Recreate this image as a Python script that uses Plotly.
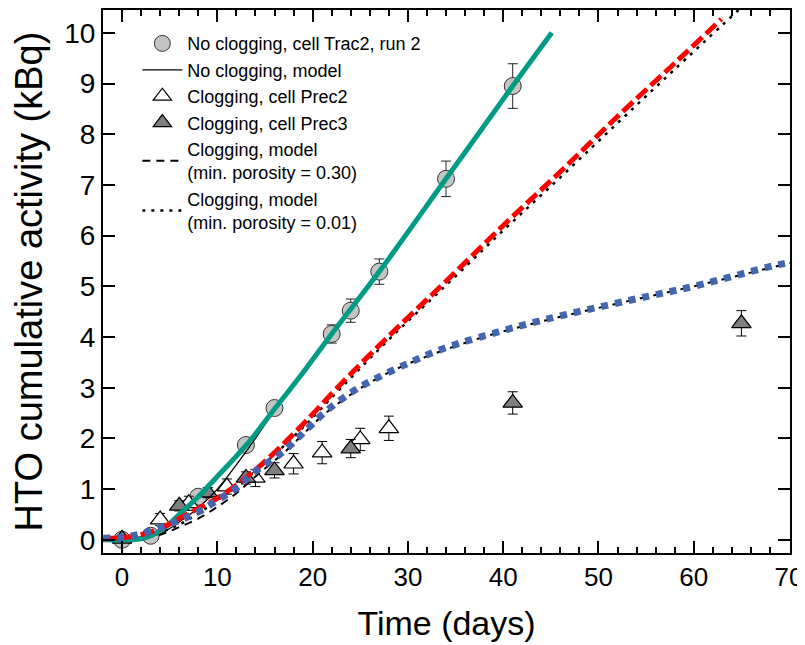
import plotly.graph_objects as go

# ---------------- data ----------------
# measured points
circ_x = [0, 3, 8, 13, 16, 22, 24, 27, 34, 41]
circ_y = [0.0, 0.08, 0.85, 1.87, 2.6, 4.06, 4.52, 5.29, 7.12, 8.95]
circ_err = [0.05, 0.05, 0.08, 0.1, 0.12, 0.18, 0.23, 0.25, 0.35, 0.44]

open_x = [4, 7, 11, 14, 18, 21, 25, 28]
open_y = [0.4, 0.72, 1.05, 1.22, 1.5, 1.72, 1.98, 2.2]
open_err = [0.12, 0.14, 0.15, 0.17, 0.2, 0.22, 0.22, 0.24]

fill_x = [0, 6, 9, 13, 16, 24, 41, 65]
fill_y = [0.02, 0.67, 0.93, 1.22, 1.37, 1.8, 2.7, 4.27]
fill_err = [0.05, 0.1, 0.1, 0.12, 0.15, 0.18, 0.22, 0.25]

# model curves
teal_x = [-2, 0, 2, 3, 4, 5, 6, 8, 10, 12, 13.5, 16, 19, 22, 27, 34, 41, 45.1]
teal_y = [0, 0, 0.02, 0.08, 0.18, 0.32, 0.5, 0.85, 1.25, 1.65, 1.97, 2.58, 3.3, 4.06, 5.29, 7.12, 8.95, 10.0]

nocl_x = [-2, 0, 2, 4, 6, 8, 10, 12, 14, 16, 19, 22, 27, 34, 41, 45]
nocl_y = [0, 0, 0.03, 0.12, 0.35, 0.63, 1.0, 1.48, 2.0, 2.55, 3.32, 4.1, 5.31, 7.13, 8.95, 9.98]

red_x = [-2, 0, 2, 4, 6, 8, 10, 12, 14, 16, 19, 23, 28, 34, 40, 46, 52, 58, 62.9]
red_y = [0.03, 0.04, 0.1, 0.22, 0.42, 0.62, 0.82, 1.08, 1.38, 1.72, 2.28, 3.08, 4.02, 5.1, 6.2, 7.26, 8.35, 9.4, 10.27]

dot_x = [-2, 0, 2, 4, 6, 8, 10, 12, 14, 16, 19, 23, 28, 34, 40, 46, 52, 58, 64.7]
dot_y = [0, 0, 0.05, 0.15, 0.3, 0.52, 0.78, 1.05, 1.35, 1.68, 2.22, 3.0, 3.95, 5.02, 6.1, 7.15, 8.22, 9.28, 10.45]

blue_x = [-2, 0, 2, 4, 6, 8, 10, 12, 14, 17, 19.5, 21.5, 24, 26, 30, 33.4, 37.6, 44.3, 53.4, 60, 68.7, 70.1]
blue_y = [0.03, 0.05, 0.12, 0.24, 0.38, 0.55, 0.78, 1.02, 1.35, 1.75, 2.2, 2.55, 2.9, 3.12, 3.48, 3.75, 4.0, 4.34, 4.73, 5.0, 5.42, 5.47]

dash_x = [-2, 0, 2, 4, 6, 8, 10, 12, 14, 17, 21.5, 26, 30, 37.6, 44.3, 53.4, 60, 70.1]
dash_y = [0, 0, 0.03, 0.1, 0.25, 0.42, 0.65, 0.92, 1.25, 1.72, 2.52, 3.1, 3.47, 3.98, 4.32, 4.72, 5.0, 5.46]

x_ticks = [0, 10, 20, 30, 40, 50, 60, 70]
y_ticks = [0, 1, 2, 3, 4, 5, 6, 7, 8, 9, 10]

FONT = "Arial, 'Liberation Sans', sans-serif"

fig = go.Figure()

# markers
fig.add_trace(go.Scatter(
    x=circ_x, y=circ_y, mode="markers", name="No clogging, cell Trac2, run 2",
    marker=dict(symbol="circle", size=17, color="#c4c4c4", line=dict(color="#333333", width=1)),
    error_y=dict(type="data", array=circ_err, color="#222222", thickness=1, width=5),
    legendrank=1))
fig.add_trace(go.Scatter(
    x=open_x, y=open_y, mode="markers", name="Clogging, cell Prec2",
    marker=dict(symbol="triangle-up", size=17, color="white", line=dict(color="black", width=1.2)),
    error_y=dict(type="data", array=open_err, color="black", thickness=1, width=5),
    legendrank=3))
fig.add_trace(go.Scatter(
    x=fill_x, y=fill_y, mode="markers", name="Clogging, cell Prec3",
    marker=dict(symbol="triangle-up", size=17, color="#7f7f7f", line=dict(color="black", width=1.2)),
    error_y=dict(type="data", array=fill_err, color="black", thickness=1, width=5),
    legendrank=4))

# black model lines
fig.add_trace(go.Scatter(
    x=nocl_x, y=nocl_y, mode="lines", name="No clogging, model",
    line=dict(color="black", width=1.3, shape="spline"), legendrank=2))
fig.add_trace(go.Scatter(
    x=dash_x, y=dash_y, mode="lines", name="Clogging, model<br>(min. porosity = 0.30)",
    line=dict(color="black", width=2, dash="8px,6px", shape="spline"), legendrank=5))
fig.add_trace(go.Scatter(
    x=dot_x, y=dot_y, mode="lines", name="Clogging, model<br>(min. porosity = 0.01)",
    line=dict(color="black", width=2.5, dash="3px,6px", shape="spline"), legendrank=6))

# coloured curves on top
fig.add_trace(go.Scatter(
    x=teal_x, y=teal_y, mode="lines", showlegend=False,
    line=dict(color="#009b84", width=5, shape="spline")))
fig.add_trace(go.Scatter(
    x=red_x, y=red_y, mode="lines", showlegend=False,
    line=dict(color="#ff0000", width=5, dash="14px,5px", shape="spline")))
fig.add_trace(go.Scatter(
    x=blue_x, y=blue_y, mode="lines", showlegend=False,
    line=dict(color="#4466b0", width=7, dash="7px,7px", shape="spline")))

axis_common = dict(
    showline=True, linecolor="black", linewidth=2, mirror="ticks",
    ticks="inside", tickcolor="black", tickwidth=2, ticklen=12,
    showgrid=False, zeroline=False, automargin=False,
)

fig.update_xaxes(
    **axis_common, range=[-2, 70.1], tickvals=x_ticks, ticktext=[str(v) for v in x_ticks],
    minor=dict(ticks="inside", dtick=2, tick0=0, ticklen=6, tickwidth=1.5, tickcolor="black"),
    tickfont=dict(family=FONT, size=26, color="black"),
    title=dict(text="Time (days)", font=dict(family=FONT, size=34, color="black"), standoff=20),
)
fig.update_yaxes(
    **axis_common, range=[-0.26, 10.45], tickvals=y_ticks, ticktext=[str(v) for v in y_ticks],
    tickfont=dict(family=FONT, size=28, color="black"),
    title=dict(text="HTO cumulative activity (kBq)", font=dict(family=FONT, size=38, color="black"), standoff=16),
)

# the page has an 8px body margin, so margins are offset to land the plot frame
fig.update_layout(
    width=805, height=645,
    margin=dict(l=95, r=23, t=2, b=100),
    plot_bgcolor="white", paper_bgcolor="white",
    font=dict(family=FONT, color="black"),
    legend=dict(x=0.05, y=0.972, xanchor="left", yanchor="top",
                bgcolor="rgba(0,0,0,0)", font=dict(family=FONT, size=18, color="black"),
                tracegroupgap=0, itemwidth=40),
)

fig.write_html("out.html")
